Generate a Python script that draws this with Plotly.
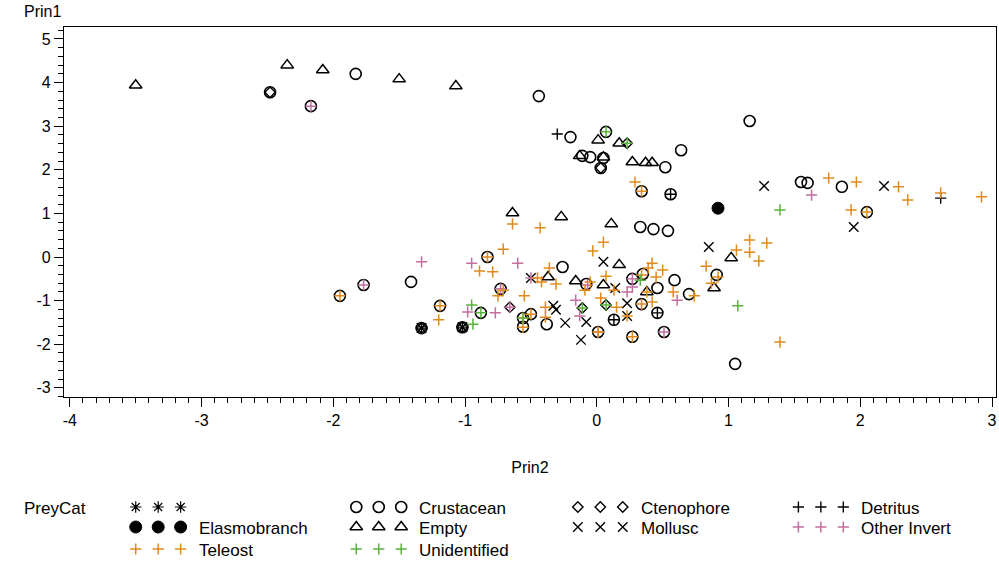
import plotly.graph_objects as go

# ---- data: principal component scores by prey category ----
missing_x = [-1.33, -1.02]
missing_y = [-1.63, -1.61]

crustacean_x = [-2.48, -1.83, -2.17, -0.44, 1.16, -0.20, 0.07, -0.11, -0.05, 0.05, 0.03, 0.52,
                0.64, 0.34, 0.56, 1.55, 1.60, 1.86, 2.05, 0.33, 0.43, 0.54, 0.91, 1.05, -0.83,
                -1.41, -1.77, -1.95, -0.73, -1.19, -0.88, -1.33, -1.02, -0.56, -0.56, -0.50,
                -0.26, -0.38, -0.08, 0.27, 0.35, 0.59, 0.70, 0.46, 0.34, 0.13, 0.46, 0.01,
                0.27, 0.51]
crustacean_y = [3.78, 4.20, 3.46, 3.69, 3.12, 2.75, 2.87, 2.32, 2.29, 2.27, 2.04, 2.06,
                2.45, 1.51, 1.44, 1.72, 1.70, 1.61, 1.03, 0.69, 0.64, 0.60, -0.41, -2.45, 0.00,
                -0.57, -0.64, -0.89, -0.73, -1.12, -1.28, -1.63, -1.61, -1.40, -1.60, -1.31,
                -0.23, -1.54, -0.62, -0.50, -0.39, -0.53, -0.85, -0.71, -1.08, -1.44, -1.28, -1.72,
                -1.83, -1.72]

ctenophore_x = [0.23, 0.03, -0.66, -0.11, 0.07, -2.48, -1.33, -1.02]
ctenophore_y = [2.61, 2.04, -1.15, -1.17, -1.10, 3.78, -1.63, -1.61]

detritus_x = [-0.30, 0.56, 2.61, 0.13, 0.46]
detritus_y = [2.82, 1.44, 1.35, -1.44, -1.28]

elasmobranch_x = [0.92]
elasmobranch_y = [1.12]

empty_x = [-3.50, -2.35, -2.08, -1.50, -1.07, 0.01, 0.17, -0.13, 0.05, 0.27, 0.37, 0.42,
           -0.64, -0.27, 0.11, 1.02, 0.89, -0.37, -0.16, 0.17, 0.05, 0.38]
empty_y = [3.94, 4.40, 4.29, 4.08, 3.92, 2.68, 2.61, 2.32, 2.29, 2.18, 2.16, 2.16,
           1.01, 0.92, 0.76, -0.02, -0.71, -0.46, -0.55, -0.18, -0.64, -0.80]

mollusc_x = [1.27, 2.18, 1.95, 0.85, 0.05, -0.50, -0.33, -0.31, -0.24, -0.08, -0.12, 0.14,
             0.23, 0.23, -1.33, -1.02]
mollusc_y = [1.63, 1.63, 0.69, 0.23, -0.11, -0.48, -1.12, -1.21, -1.51, -1.49, -1.90, -0.71,
             -1.06, -1.35, -1.63, -1.61]

other_x = [-2.17, 1.63, -1.33, -0.95, -0.60, -1.77, -0.73, -0.50, -0.98, -0.77, -0.66, -0.16,
           -0.13, -0.07, 0.23, 0.27, 0.27, 0.61, 0.51, 0.01]
other_y = [3.46, 1.42, -0.11, -0.14, -0.14, -0.64, -0.73, -0.48, -1.26, -1.28, -1.15, -0.99,
           -1.35, -0.64, -0.80, -0.69, -0.50, -0.99, -1.72, -1.72]

teleost_x = [0.29, 0.34, 1.76, 1.97, 2.29, 2.36, 2.61, 2.92, 1.93, 2.05, 1.16, 1.29, 1.06, 1.16,
             1.23, 0.83, 0.92, 0.87, 1.39, -0.64, -0.43, -0.83, -0.71, -0.89, -0.79, -1.95,
             -0.71, -0.75, -0.55, -1.19, -1.20, -0.45, -0.42, -0.36, -0.31, -0.39, -0.39,
             -0.56, -0.56, -0.50, 0.05, -0.03, 0.42, 0.39, 0.50, 0.45, 0.07, -0.05, -0.09,
             0.13, 0.34, 0.38, 0.58, 0.74, 0.03, 0.15, 0.34, 0.42, 0.23, 0.01, 0.27]
teleost_y = [1.72, 1.51, 1.81, 1.72, 1.61, 1.31, 1.47, 1.38, 1.08, 1.03, 0.39, 0.32, 0.16, 0.11,
             -0.09, -0.21, -0.46, -0.60, -1.95, 0.76, 0.67, 0.00, 0.18, -0.32, -0.34, -0.89,
             -0.76, -0.89, -0.89, -1.12, -1.44, -0.48, -0.57, -0.25, -0.62, -1.15, -1.38,
             -1.40, -1.61, -1.31, 0.34, 0.14, -0.14, -0.25, -0.30, -0.46, -0.44, -0.57, -0.76,
             -0.76, -0.41, -0.80, -0.80, -0.89, -0.94, -1.15, -1.08, -1.03, -1.35, -1.72, -1.83]

unident_x = [0.07, 0.23, 1.39, 1.07, -0.95, -0.88, -0.94, -0.56, 0.33, -0.11, 0.07]
unident_y = [2.87, 2.61, 1.08, -1.12, -1.10, -1.28, -1.54, -1.40, -0.53, -1.17, -1.10]

x_ticks = [-4, -3, -2, -1, 0, 1, 2, 3]
y_ticks = [-3, -2, -1, 0, 1, 2, 3, 4, 5]

ORANGE = "#E08A1C"
PINK = "#C46E9E"
GREEN = "#58B23C"
BLACK = "#000000"

# name, x, y, symbol, colour, size, stroke width
series = [
    ("", missing_x, missing_y, "asterisk-open", BLACK, 9.5, 1.2),
    ("Crustacean", crustacean_x, crustacean_y, "circle-open", BLACK, 11, 1.6),
    ("Ctenophore", ctenophore_x, ctenophore_y, "diamond-open", BLACK, 8, 1.4),
    ("Detritus", detritus_x, detritus_y, "cross-thin-open", BLACK, 8, 1.4),
    ("Elasmobranch", elasmobranch_x, elasmobranch_y, "circle", BLACK, 12, 1.0),
    ("Empty", empty_x, empty_y, "triangle-up-open", BLACK, 11, 1.5),
    ("Mollusc", mollusc_x, mollusc_y, "x-thin-open", BLACK, 9.5, 1.4),
    ("Other Invert", other_x, other_y, "cross-thin-open", PINK, 8, 1.5),
    ("Teleost", teleost_x, teleost_y, "cross-thin-open", ORANGE, 8, 1.5),
    ("Unidentified", unident_x, unident_y, "cross-thin-open", GREEN, 8, 1.5),
]

W, H = 999, 565
FONT = "Liberation Sans, Arial, sans-serif"
TXT = 16
LEG_TXT = 17

fig = go.Figure()


def marker_for(symbol, colour, size, width):
    return dict(symbol=symbol, size=size, color=colour,
                line=dict(color=colour, width=width))


for name, xs, ys, sym, col, sz, lw in series:
    fig.add_trace(go.Scatter(x=xs, y=ys, mode="markers", name=name or "missing",
                             marker=marker_for(sym, col, sz, lw), showlegend=False,
                             xaxis="x", yaxis="y", cliponaxis=False))

# ---- legend block drawn on its own pixel-unit axes under the plot ----
leg_cols_x = [135, 356, 578, 799]
leg_rows_y = [507, 527, 549]
sym_gap = 22.5
text_off = 61
annotations = []
for i, (name, xs, ys, sym, col, sz, lw) in enumerate(series):
    r, c = divmod(i, 4)
    x0 = leg_cols_x[c]
    y0 = leg_rows_y[r]
    fig.add_trace(go.Scatter(x=[x0 + k * sym_gap for k in range(3)], y=[y0] * 3,
                             mode="markers", marker=marker_for(sym, col, sz, lw),
                             showlegend=False, xaxis="x2", yaxis="y2",
                             hoverinfo="skip", cliponaxis=False))
    if name:
        annotations.append(dict(x=x0 + text_off, y=y0 + 1, xref="x2", yref="y2", text=name,
                                showarrow=False, xanchor="left", yanchor="middle",
                                font=dict(size=LEG_TXT, color="black", family=FONT)))

annotations.append(dict(x=21, y=508, xref="x2", yref="y2", text="PreyCat", showarrow=False,
                        xanchor="left", yanchor="middle",
                        font=dict(size=LEG_TXT, color="black", family=FONT)))
annotations.append(dict(x=21, y=11, xref="x2", yref="y3", text="Prin1", showarrow=False,
                        xanchor="left", yanchor="middle",
                        font=dict(size=TXT, color="black", family=FONT)))

x_left, x_right = 63, 997
y_top, y_bot = 27, 397

fig.update_layout(
    width=W, height=H,
    margin=dict(l=0, r=0, t=0, b=0),
    paper_bgcolor="white", plot_bgcolor="white",
    showlegend=False,
    font=dict(family=FONT, size=TXT, color="black"),
    xaxis=dict(
        domain=[x_left / W, x_right / W], range=[-4.045, 3.03],
        tickvals=x_ticks, ticktext=[str(v) for v in x_ticks],
        ticks="outside", ticklen=9, tickwidth=1, tickcolor="black",
        showline=True, linecolor="black", linewidth=1, mirror=True,
        showgrid=False, zeroline=False, anchor="y",
        tickfont=dict(size=TXT, family=FONT),
        minor=dict(dtick=0.1, ticks="outside", ticklen=5, tickcolor="black", showgrid=False),
        title=dict(text="Prin2", font=dict(size=TXT, family=FONT), standoff=33),
    ),
    yaxis=dict(
        domain=[1 - y_bot / H, 1 - y_top / H], range=[-3.21, 5.275],
        tickvals=y_ticks, ticktext=[str(v) for v in y_ticks],
        ticks="outside", ticklen=9, tickwidth=1, tickcolor="black",
        showline=True, linecolor="black", linewidth=1, mirror=True,
        showgrid=False, zeroline=False, anchor="x",
        tickfont=dict(size=TXT, family=FONT),
        minor=dict(dtick=0.2, ticks="outside", ticklen=5, tickcolor="black", showgrid=False),
    ),
    xaxis2=dict(domain=[0, 1], range=[0, W], visible=False, anchor="y2", fixedrange=True),
    yaxis2=dict(domain=[0, 75 / H], range=[H, H - 75], visible=False, anchor="x2",
                fixedrange=True),
    yaxis3=dict(domain=[1 - 27 / H, 1], range=[27, 0], visible=False, anchor="x2",
                fixedrange=True),
    annotations=annotations,
)

fig.write_html("out.html")
